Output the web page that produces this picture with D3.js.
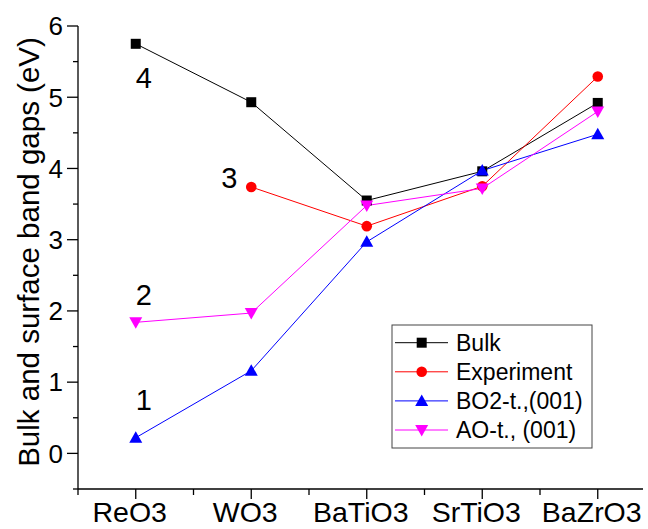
<!DOCTYPE html>
<html>
<head>
<meta charset="utf-8">
<script src="https://cdn.jsdelivr.net/npm/d3@7/dist/d3.min.js"></script>
<style>
  html, body { margin: 0; padding: 0; background: #fff; }
  svg { display: block; }
  text { font-family: "Liberation Sans", Arial, sans-serif; fill: #000; }
</style>
</head>
<body>
<svg id="chart" width="648" height="529"></svg>
<script>
// ---- data ----
const categories = ["ReO3", "WO3", "BaTiO3", "SrTiO3", "BaZrO3"];
const bulk       = [5.75, 4.93, 3.55, 3.96, 4.92];
const experiment = [null, 3.74, 3.19, 3.75, 5.29];
const bo2        = [0.22, 1.16, 2.97, 3.97, 4.48];
const ao         = [1.84, 1.97, 3.48, 3.72, 4.80];
const yTicks     = [0, 1, 2, 3, 4, 5, 6];
const seriesNames = ["Bulk", "Experiment", "BO2-t.,(001)", "AO-t., (001)"];
const annotationLabels = ["4", "3", "2", "1"];
const annotationAt = [ // [category index, value]
  [0, 5.13], [1, 3.72], [0, 2.08], [0, 0.61]
];

// ---- layout ----
const svg = d3.select("#chart");
const x = d3.scaleLinear().domain([0.5, 5.5]).range([78, 655.5]);
const y = d3.scaleLinear().domain([-0.5, 6]).range([489, 26]);
const xAxisEnd = 643;

// axes lines
const g = svg.append("g");
g.append("line").attr("x1", x(0.5)).attr("x2", xAxisEnd)
  .attr("y1", y(-0.5)).attr("y2", y(-0.5))
  .attr("stroke", "#000").attr("stroke-width", 1.3);
g.append("line").attr("x1", x(0.5)).attr("x2", x(0.5))
  .attr("y1", y(-0.5)).attr("y2", y(6))
  .attr("stroke", "#000").attr("stroke-width", 1.3);

// x ticks
const xMajor = d3.range(1, 6);
const xMinor = [0.5, 1.5, 2.5, 3.5, 4.5];
g.selectAll(".xmaj").data(xMajor).enter().append("line")
  .attr("x1", d => x(d)).attr("x2", d => x(d))
  .attr("y1", y(-0.5)).attr("y2", y(-0.5) + 10)
  .attr("stroke", "#000").attr("stroke-width", 1.3);
g.selectAll(".xmin").data(xMinor).enter().append("line")
  .attr("x1", d => x(d)).attr("x2", d => x(d))
  .attr("y1", y(-0.5)).attr("y2", y(-0.5) + 6)
  .attr("stroke", "#000").attr("stroke-width", 1.3);
g.selectAll(".xlab").data(categories).enter().append("text")
  .attr("x", (d, i) => x(i + 1) - 6).attr("y", 522)
  .attr("text-anchor", "middle").attr("font-size", 28.5)
  .text(d => d);

// y ticks
const yMinor = d3.range(-0.5, 6, 1);
g.selectAll(".ymaj").data(yTicks).enter().append("line")
  .attr("x1", x(0.5) - 11).attr("x2", x(0.5))
  .attr("y1", d => y(d)).attr("y2", d => y(d))
  .attr("stroke", "#000").attr("stroke-width", 1.3);
g.selectAll(".ymin").data(yMinor).enter().append("line")
  .attr("x1", x(0.5) - 5).attr("x2", x(0.5))
  .attr("y1", d => y(d)).attr("y2", d => y(d))
  .attr("stroke", "#000").attr("stroke-width", 1.3);
g.selectAll(".ylab").data(yTicks).enter().append("text")
  .attr("x", 63).attr("y", d => y(d) + 9.3)
  .attr("text-anchor", "end").attr("font-size", 26)
  .text(d => d);

// y title
svg.append("text")
  .attr("transform", "translate(39,252) rotate(-90)")
  .attr("text-anchor", "middle").attr("font-size", 29.5)
  .text("Bulk and surface band gaps (eV)");

// ---- series ----
const series = [
  { name: seriesNames[0], values: bulk, color: "#000000", shape: "square" },
  { name: seriesNames[1], values: experiment, color: "#ff0000", shape: "circle" },
  { name: seriesNames[2], values: bo2, color: "#0000ff", shape: "up" },
  { name: seriesNames[3], values: ao, color: "#ff00ff", shape: "down" }
];

function marker(sel, shape, color) {
  if (shape === "square") {
    sel.append("rect").attr("x", -5).attr("y", -5).attr("width", 10).attr("height", 10).attr("fill", color);
  } else if (shape === "circle") {
    sel.append("circle").attr("r", 5.3).attr("fill", color);
  } else if (shape === "up") {
    sel.append("path").attr("d", "M0,-6.5L6.5,5L-6.5,5Z").attr("fill", color);
  } else {
    sel.append("path").attr("d", "M0,6.5L6.5,-5L-6.5,-5Z").attr("fill", color);
  }
}

const line = d3.line()
  .defined(d => d.v !== null)
  .x(d => x(d.i + 1)).y(d => y(d.v));

series.forEach(s => {
  const pts = s.values.map((v, i) => ({ i, v }));
  svg.append("path").datum(pts)
    .attr("d", line).attr("fill", "none")
    .attr("stroke", s.color).attr("stroke-width", 1);
});
series.forEach(s => {
  const pts = s.values.map((v, i) => ({ i, v })).filter(d => d.v !== null);
  pts.forEach(p => {
    const m = svg.append("g").attr("transform", `translate(${x(p.i + 1)},${y(p.v)})`);
    marker(m, s.shape, s.color);
  });
});

// annotations
annotationLabels.forEach((t, k) => {
  const [ci, v] = annotationAt[k];
  svg.append("text")
    .attr("x", x(ci + 1) + (k === 1 ? -22 : 8)).attr("y", y(v))
    .attr("text-anchor", "middle").attr("font-size", 29)
    .text(t);
});

// ---- legend ----
const leg = svg.append("g");
leg.append("rect").attr("x", 392).attr("y", 325).attr("width", 200).attr("height", 123)
  .attr("fill", "#fff").attr("stroke", "#444").attr("stroke-width", 1);
series.forEach((s, i) => {
  const ry = 342.7 + i * 29.1;
  leg.append("line").attr("x1", 395).attr("x2", 448).attr("y1", ry).attr("y2", ry)
    .attr("stroke", s.color).attr("stroke-width", 1);
  const m = leg.append("g").attr("transform", `translate(421.7,${ry})`);
  marker(m, s.shape, s.color);
  leg.append("text").attr("x", 456).attr("y", ry + 8.2)
    .attr("font-size", 23).text(s.name);
});
</script>
</body>
</html>
